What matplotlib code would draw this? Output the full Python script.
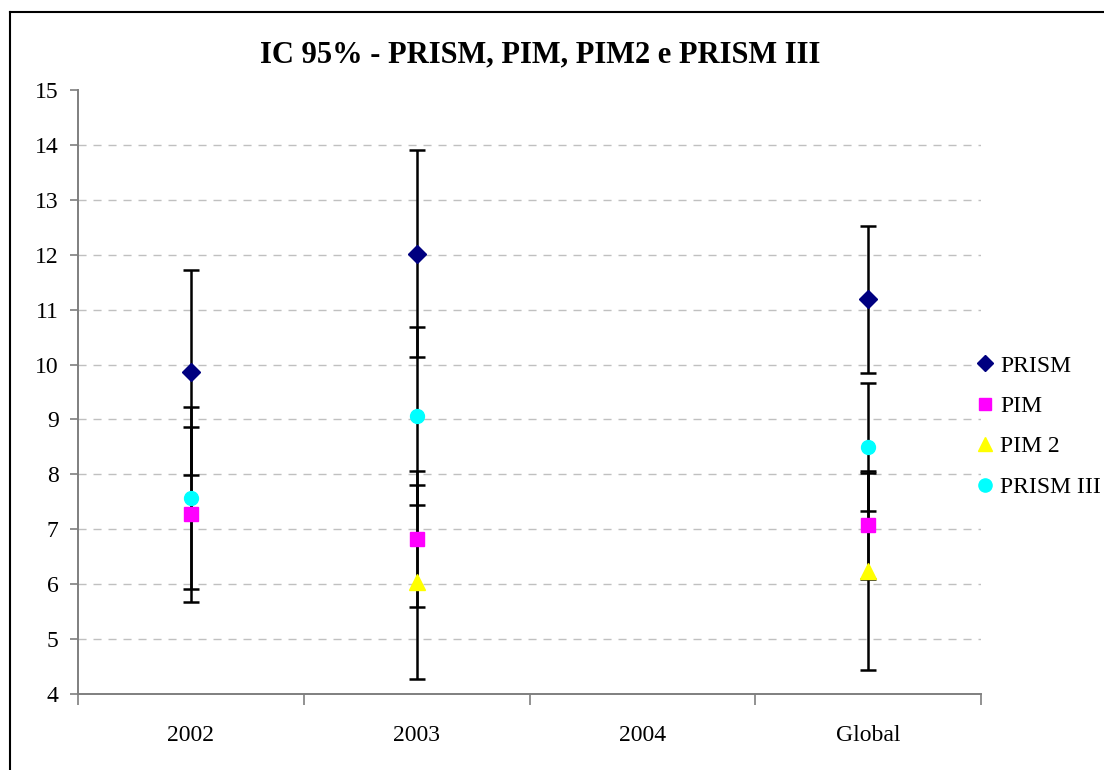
import numpy as np
import matplotlib
matplotlib.use("Agg")
import matplotlib.pyplot as plt
from matplotlib.lines import Line2D

plt.rcParams["font.family"] = ["Liberation Serif", "DejaVu Serif"]

CATEGORIES = ["2002", "2003", "2004", "Global"]
SERIES     = ["PRISM", "PIM", "PIM 2", "PRISM III"]

# point estimates (nan = no value)
prism     = [9.86, 12.02, np.nan, 11.185]
pim       = [7.27, 6.83, np.nan, 7.08]
pim2      = [np.nan, 6.04, np.nan, 6.235]
prism3    = [7.57, 9.07, np.nan, 8.495]

# half-width of 95% confidence interval
prism_err  = [1.87, 1.88, np.nan, 1.345]
pim_err    = [1.59, 1.24, np.nan, 0.98]
pim2_err   = [np.nan, 1.76, np.nan, 1.795]
prism3_err = [1.65, 1.62, np.nan, 1.165]

VALUES  = [prism, pim, pim2, prism3]
ERRORS  = [prism_err, pim_err, pim2_err, prism3_err]
COLORS  = ["#000080", "#FF00FF", "#FFFF00", "#00FFFF"]
MARKERS = ["D", "s", "^", "o"]
SIZES   = [9, 9.5, 11, 10]

fig = plt.figure(figsize=(11.04, 7.7), dpi=100)
ax = fig.add_axes([78 / 1104, 76 / 770, 903 / 1104, 604 / 770])

x = np.arange(len(CATEGORIES))
for vals, errs in zip(VALUES, ERRORS):
    ax.errorbar(x, vals, yerr=errs, fmt="none", ecolor="black", elinewidth=1.8,
                capsize=5.8, capthick=1.8, zorder=2)
for vals, color, marker, ms, name in zip(VALUES, COLORS, MARKERS, SIZES, SERIES):
    ax.plot(x, vals, linestyle="none", marker=marker, markersize=ms, color=color,
            markeredgecolor=color, zorder=3, label=name)

ax.set_xlim(-0.5, len(CATEGORIES) - 0.5)
ax.set_ylim(4, 15)
ax.set_yticks(range(4, 16))
ax.set_xticks(x)
ax.set_xticklabels(CATEGORIES)
ax.set_xticks(np.arange(-0.5, len(CATEGORIES)), minor=True)
ax.tick_params(axis="x", which="major", length=0, pad=22, labelsize=17)
ax.tick_params(axis="x", which="minor", length=8, width=1.2, color="#7f7f7f", direction="out")
ax.tick_params(axis="y", length=6, width=1.2, color="#7f7f7f", pad=8, labelsize=17)

ax.yaxis.grid(True, color="#c0c0c0", linestyle=(0, (5.8, 5)), linewidth=1.0)
ax.get_ygridlines()[-1].set_visible(False)
ax.set_axisbelow(True)

ax.spines[["top", "right"]].set_visible(False)
for s in ["left", "bottom"]:
    ax.spines[s].set_color("#7f7f7f")
    ax.spines[s].set_linewidth(1.4)

fig.text(540 / 1104, 1 - 55 / 770, "IC 95% - PRISM, PIM, PIM2 e PRISM III",
         ha="center", va="center", fontsize=22, fontweight="bold")

handles = [Line2D([], [], linestyle="none", marker=m, markersize=ms * 0.95, color=c,
                  markeredgecolor=c) for m, ms, c in zip(MARKERS, SIZES, COLORS)]
fig.legend(handles, SERIES, loc="upper left", bbox_to_anchor=(978 / 1104, 1 - 355 / 770),
           frameon=False, fontsize=17, handlelength=0.6, handletextpad=0.35,
           labelspacing=0.8, borderpad=0, borderaxespad=0)

# chart frame (runs off the right and bottom edges like the original)
fig.add_artist(Line2D([10 / 1104, 1.0], [1 - 12 / 770, 1 - 12 / 770],
                      transform=fig.transFigure, color="black", linewidth=1.5))
fig.add_artist(Line2D([10 / 1104, 10 / 1104], [0.0, 1 - 12 / 770],
                      transform=fig.transFigure, color="black", linewidth=1.5))

fig.savefig("out.png", dpi=100)
